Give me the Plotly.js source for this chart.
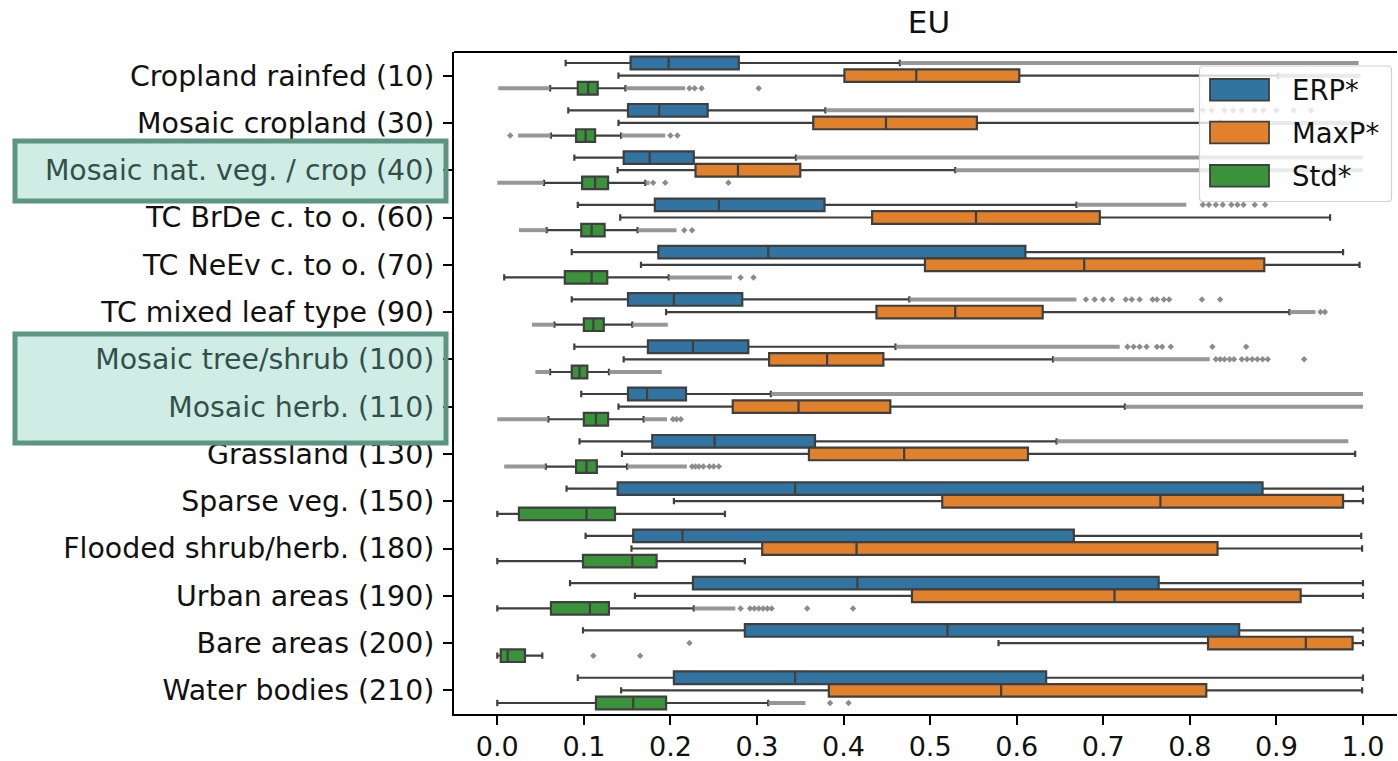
<!DOCTYPE html>
<html>
<head>
<meta charset="utf-8">
<script src="https://cdn.plot.ly/plotly-3.0.1.min.js"></script>
<style>html,body{margin:0;padding:0;background:#fff;}#chart{width:1398px;height:761px;}</style>
</head>
<body>
<div id="chart"></div>
<script>
// ---------------- DATA ----------------
const categories = [
  "Cropland rainfed (10)", "Mosaic cropland (30)", "Mosaic nat. veg. / crop (40)",
  "TC BrDe c. to o. (60)", "TC NeEv c. to o. (70)", "TC mixed leaf type (90)",
  "Mosaic tree/shrub (100)", "Mosaic herb. (110)", "Grassland (130)",
  "Sparse veg. (150)", "Flooded shrub/herb. (180)", "Urban areas (190)",
  "Bare areas (200)", "Water bodies (210)"
];
const seriesNames = ["ERP*", "MaxP*", "Std*"];

const erpLowerFence = [0.079, 0.082, 0.089, 0.093, 0.086, 0.086, 0.089, 0.097, 0.095, 0.080, 0.102, 0.084, 0.099, 0.093];
const erpQ1         = [0.154, 0.151, 0.146, 0.182, 0.186, 0.151, 0.174, 0.151, 0.179, 0.139, 0.157, 0.226, 0.286, 0.204];
const erpMedian     = [0.198, 0.187, 0.176, 0.256, 0.313, 0.204, 0.226, 0.173, 0.251, 0.344, 0.214, 0.416, 0.520, 0.344];
const erpQ3         = [0.279, 0.243, 0.227, 0.378, 0.610, 0.283, 0.290, 0.218, 0.367, 0.884, 0.666, 0.764, 0.857, 0.634];
const erpUpperFence = [0.465, 0.379, 0.345, 0.669, 0.977, 0.476, 0.460, 0.316, 0.646, 1.000, 0.998, 1.000, 1.000, 1.000];

const maxpLowerFence = [0.140, 0.140, 0.139, 0.142, 0.166, 0.195, 0.146, 0.140, 0.144, 0.204, 0.155, 0.159, 0.579, 0.143];
const maxpQ1         = [0.401, 0.365, 0.229, 0.433, 0.494, 0.438, 0.314, 0.272, 0.360, 0.514, 0.306, 0.479, 0.821, 0.383];
const maxpMedian     = [0.484, 0.449, 0.278, 0.553, 0.678, 0.529, 0.381, 0.348, 0.470, 0.766, 0.415, 0.713, 0.934, 0.582];
const maxpQ3         = [0.603, 0.554, 0.350, 0.696, 0.886, 0.630, 0.446, 0.454, 0.613, 0.977, 0.832, 0.928, 0.988, 0.819];
const maxpUpperFence = [0.902, 0.835, 0.529, 0.962, 0.996, 0.915, 0.642, 0.725, 0.991, 1.000, 0.999, 1.000, 1.000, 0.999];

const stdLowerFence = [0.061, 0.062, 0.054, 0.057, 0.008, 0.066, 0.061, 0.059, 0.056, 0.000, 0.000, 0.000, 0.000, 0.000];
const stdQ1         = [0.093, 0.091, 0.098, 0.097, 0.078, 0.100, 0.086, 0.100, 0.091, 0.025, 0.099, 0.062, 0.004, 0.114];
const stdMedian     = [0.105, 0.102, 0.113, 0.109, 0.109, 0.111, 0.095, 0.114, 0.103, 0.103, 0.156, 0.107, 0.012, 0.157];
const stdQ3         = [0.116, 0.113, 0.128, 0.124, 0.127, 0.123, 0.104, 0.128, 0.115, 0.136, 0.184, 0.129, 0.032, 0.195];
const stdUpperFence = [0.148, 0.143, 0.171, 0.162, 0.198, 0.156, 0.129, 0.169, 0.150, 0.263, 0.286, 0.227, 0.052, 0.313];

// dense outlier runs [from, to] per category
const erpOutlierBands = [
  [[0.465, 0.995]], [[0.379, 0.805]], [[0.345, 1.0]], [[0.669, 0.796]], [],
  [[0.476, 0.669]], [[0.460, 0.719]], [[0.316, 1.0]], [[0.646, 0.983]],
  [], [], [], [], []
];
const maxpOutlierBands = [
  [[0.902, 0.997]], [[0.835, 0.997]], [[0.529, 1.0]], [], [],
  [[0.915, 0.945]], [[0.642, 0.823]], [[0.725, 1.0]], [],
  [], [], [], [], []
];
const stdOutlierBands = [
  [[0.001, 0.061], [0.148, 0.217]], [[0.024, 0.062], [0.143, 0.194]],
  [[0.0, 0.054], [0.171, 0.176]], [[0.025, 0.057], [0.162, 0.207]],
  [[0.198, 0.271]], [[0.040, 0.066], [0.156, 0.197]],
  [[0.044, 0.061], [0.129, 0.190]], [[0.0, 0.059], [0.169, 0.196]],
  [[0.008, 0.056], [0.150, 0.219]], [], [], [[0.227, 0.275]], [], [[0.313, 0.356]]
];
// individual outliers per category
const erpOutlierPoints = [
  [], [0.815, 0.825, 0.84, 0.85, 0.86, 0.875, 0.885, 0.90, 0.92, 0.94], [],
  [0.815, 0.822, 0.83, 0.838, 0.848, 0.855, 0.862, 0.875, 0.887], [],
  [0.68, 0.69, 0.70, 0.71, 0.726, 0.733, 0.742, 0.757, 0.762, 0.77, 0.776, 0.814, 0.835],
  [0.728, 0.735, 0.742, 0.75, 0.762, 0.768, 0.778, 0.826, 0.865],
  [], [], [], [], [], [], []
];
const maxpOutlierPoints = [
  [], [], [], [], [], [0.951, 0.956],
  [0.83, 0.835, 0.84, 0.846, 0.851, 0.86, 0.866, 0.872, 0.878, 0.884, 0.89, 0.932],
  [], [], [], [], [], [0.222], []
];
const stdOutlierPoints = [
  [0.222, 0.228, 0.236, 0.302], [0.015, 0.2, 0.208], [0.18, 0.194, 0.267], [0.216, 0.225],
  [0.281, 0.296], [], [], [0.203, 0.207, 0.212], [0.225, 0.229, 0.233, 0.238, 0.245, 0.25, 0.256],
  [], [], [0.281, 0.292, 0.297, 0.302, 0.307, 0.312, 0.317, 0.358, 0.411], [0.111, 0.165], [0.3845, 0.4057]
];

// ---------------- STYLE ----------------
const colors = ["#3274a1", "#e1812c", "#3a923a"];
const edge = "#3f3f3f";
const offsets = [-0.267, 0, 0.267];
const boxW = 0.267;
const FONT = "DejaVu Sans";
const L = 454, R = 1397, T = 52, B = 714;
const px2x = p => (p - L) / (R - L);
const py2y = p => (B - p) / (B - T);

const stats = [
  [erpLowerFence, erpQ1, erpMedian, erpQ3, erpUpperFence, erpOutlierBands, erpOutlierPoints],
  [maxpLowerFence, maxpQ1, maxpMedian, maxpQ3, maxpUpperFence, maxpOutlierBands, maxpOutlierPoints],
  [stdLowerFence, stdQ1, stdMedian, stdQ3, stdUpperFence, stdOutlierBands, stdOutlierPoints]
];

const traces = [];
stats.forEach((s, k) => {
  const pos = categories.map((c, i) => i + offsets[k]);
  traces.push({
    type: "box", orientation: "h", name: seriesNames[k], showlegend: false,
    y: pos, lowerfence: s[0], q1: s[1], median: s[2], q3: s[3], upperfence: s[4],
    width: boxW, whiskerwidth: 0.5, boxpoints: false,
    fillcolor: colors[k], line: {color: edge, width: 2.2}, hoverinfo: "skip"
  });
});
stats.forEach((s, k) => {
  const bx = [], by = [];
  s[5].forEach((bands, i) => bands.forEach(b => { bx.push(b[0], b[1], null); by.push(i + offsets[k], i + offsets[k], null); }));
  traces.push({type: "scatter", mode: "lines", x: bx, y: by, showlegend: false, hoverinfo: "skip",
    line: {color: "rgba(140,140,140,0.9)", width: 4}});
  const ox = [], oy = [];
  s[6].forEach((pts, i) => pts.forEach(v => { ox.push(v); oy.push(i + offsets[k]); }));
  traces.push({type: "scatter", mode: "markers", x: ox, y: oy, showlegend: false, hoverinfo: "skip",
    marker: {symbol: "diamond", size: 5, color: "rgb(140,140,140)", line: {width: 0}}});
});

// ---------------- SHAPES ----------------
const shapes = [];
shapes.push({type: "line", xref: "paper", yref: "paper", x0: 0, x1: 1, y0: 1, y1: 1, line: {color: "#000", width: 2}});
function roundRect(x0p, y0p, x1p, y1p, r) {
  const X0 = px2x(x0p), X1 = px2x(x1p), Y0 = py2y(y0p), Y1 = py2y(y1p);
  const rx = r / (R - L), ry = r / (B - T);
  return `M${X0 + rx},${Y0} L${X1 - rx},${Y0} Q${X1},${Y0} ${X1},${Y0 - ry} L${X1},${Y1 + ry} Q${X1},${Y1} ${X1 - rx},${Y1} L${X0 + rx},${Y1} Q${X0},${Y1} ${X0},${Y1 + ry} L${X0},${Y0 - ry} Q${X0},${Y0} ${X0 + rx},${Y0} Z`;
}
shapes.push({type: "path", xref: "paper", yref: "paper", layer: "above", path: roundRect(1199.5, 66, 1391.5, 201.5, 4),
  fillcolor: "rgba(255,255,255,0.8)", line: {color: "rgb(210,210,210)", width: 1.2}});
const swY = [[79, 100.7], [121.7, 143.3], [165, 186.7]];
const annotations = [];
seriesNames.forEach((n, k) => {
  shapes.push({type: "rect", xref: "paper", yref: "paper", layer: "above",
    x0: px2x(1210), x1: px2x(1269), y0: py2y(swY[k][0]), y1: py2y(swY[k][1]),
    fillcolor: colors[k], line: {color: edge, width: 1.8}});
  annotations.push({xref: "paper", yref: "paper", x: px2x(1290), y: py2y((swY[k][0] + swY[k][1]) / 2),
    xanchor: "left", yanchor: "middle", text: n, showarrow: false, font: {family: FONT, size: 27.5, color: "#111"}});
});
const hlBoxes = [[139, 203], [332, 445]];
hlBoxes.forEach(h => {
  shapes.push({type: "rect", xref: "paper", yref: "paper", layer: "above",
    x0: px2x(15), x1: px2x(446), y0: py2y(h[0] + 2), y1: py2y(h[1] - 2),
    fillcolor: "rgba(115,200,180,0.34)", line: {color: "rgb(92,150,130)", width: 5}});
});

const layout = {
  width: 1398, height: 761,
  margin: {l: L, r: 1398 - R, t: T, b: 761 - B, pad: 0},
  paper_bgcolor: "#fff", plot_bgcolor: "#fff",
  font: {family: FONT, size: 27, color: "#111"},
  boxmode: "overlay",
  showlegend: false,
  title: {text: "EU", font: {family: FONT, size: 31, color: "#111"}, xref: "paper", x: px2x(929), xanchor: "center",
    yref: "container", y: 1 - 22 / 761, yanchor: "middle"},
  xaxis: {range: [-0.05, 1.0393], tickvals: [0, 0.1, 0.2, 0.3, 0.4, 0.5, 0.6, 0.7, 0.8, 0.9, 1.0],
    ticktext: ["0.0", "0.1", "0.2", "0.3", "0.4", "0.5", "0.6", "0.7", "0.8", "0.9", "1.0"],
    showgrid: false, zeroline: false, showline: true, linecolor: "#000", linewidth: 2,
    ticks: "outside", ticklen: 9, tickwidth: 2, tickcolor: "#000", ticklabelstandoff: -1,
    tickfont: {family: FONT, size: 27, color: "#111"}},
  yaxis: {range: [13.5, -0.5], tickvals: categories.map((c, i) => i), ticktext: categories,
    showgrid: false, zeroline: false, showline: true, linecolor: "#000", linewidth: 2,
    ticks: "outside", ticklen: 9, tickwidth: 2, tickcolor: "#000", ticklabelstandoff: 3,
    tickfont: {family: FONT, size: 28.4, color: "#111"}},
  shapes: shapes, annotations: annotations
};
Plotly.newPlot("chart", traces, layout, {displayModeBar: false, staticPlot: true});
</script>
</body>
</html>
